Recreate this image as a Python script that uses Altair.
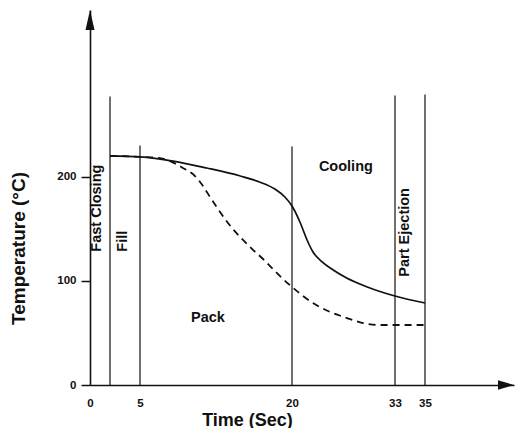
import altair as alt
import pandas as pd

# --- data ---
solid_t = [2, 5, 8.26, 11.6, 14.9, 16.8, 18.3, 19.3, 20, 21.0, 21.9, 22.65, 23.8, 25.2, 26.9, 29.5, 33, 35]
solid_temp = [220, 219, 215, 208.3, 200.6, 194.9, 188.2, 180.5, 171.8, 156.5, 139.2, 127.7, 118.1,
              110.4, 102.7, 94.1, 85.4, 78.7]

dash_t = [2, 5, 6.97, 7.96, 9.24, 10.43, 11.22, 11.91, 12.7, 13.39, 14.08, 15.07, 16.05, 17.04,
          18.03, 19.01, 20, 22.65, 24.8, 26.94, 28.96, 30.73, 33, 35]
dash_temp = [220, 219, 217.9, 215, 208.3, 200.6, 191, 180.5, 169, 159.4, 150.7, 140.2, 130.6,
             121.9, 112.3, 102.7, 94.1, 78.7, 70.1, 64.3, 59.5, 57.6, 57.6, 57.6]

phase_t = [2, 5, 20, 33, 35]
phase_top = [277, 230, 229, 278, 279]

vlabels = ["Fast Closing", "Fill", "Part Ejection"]
vlabel_t = [0.7, 3.3, 33.67]
vlabel_temp = [128, 128, 104]

hlabels = ["Pack", "Cooling"]
hlabel_t = [11.7, 26.8]
hlabel_temp = [64, 209]

x_ticks = [0, 5, 20, 33, 35]
y_ticks = [0, 100, 200]

FONT = "Liberation Sans"
INK = "#111111"

solid_df = pd.DataFrame({"t": solid_t, "temp": solid_temp})
dash_df = pd.DataFrame({"t": dash_t, "temp": dash_temp})
phase_df = pd.DataFrame({"t": phase_t, "temp": phase_top, "base": [0] * len(phase_t)})
vlab_df = pd.DataFrame({"t": vlabel_t, "temp": vlabel_temp, "label": vlabels})
hlab_df = pd.DataFrame({"t": hlabel_t, "temp": hlabel_temp, "label": hlabels})
xarrow_df = pd.DataFrame({"t": [40], "temp": [0]})
yarrow_df = pd.DataFrame({"t": [0], "temp": [360]})

x_scale = alt.Scale(domain=[0, 5, 20, 33, 35, 40], range=[0, 50, 202, 305, 335, 424])
y_scale = alt.Scale(domain=[0, 360], nice=False, zero=True)

x_enc = alt.X("t:Q", scale=x_scale,
              axis=alt.Axis(values=x_ticks, ticks=False, grid=False, labelPadding=12,
                            title="Time (Sec)", titleX=157, titleY=35,
                            titleAlign="center", titleBaseline="middle",
                            titleFontSize=18, labelFlush=False))
y_enc = alt.Y("temp:Q", scale=y_scale,
              axis=alt.Axis(values=y_ticks, grid=False, tickSize=9, labelPadding=5,
                            title="Temperature  (°C)", titleX=-72, titleY=238,
                            titleAngle=270, titleAlign="center", titleBaseline="middle",
                            titleFontSize=19, labelFlush=False))

rules = alt.Chart(phase_df).mark_rule(color=INK, strokeWidth=1.2).encode(
    x=x_enc, y=y_enc, y2="base:Q")

solid = alt.Chart(solid_df).mark_line(color=INK, strokeWidth=1.7, interpolate="monotone").encode(
    x=x_enc, y=y_enc)

dashed = alt.Chart(dash_df).mark_line(color=INK, strokeWidth=1.8, strokeDash=[7, 5],
                                      interpolate="monotone").encode(x=x_enc, y=y_enc)

vtext = alt.Chart(vlab_df).mark_text(angle=270, align="left", baseline="middle",
                                     font=FONT, fontWeight="bold", fontSize=14.5,
                                     color=INK).encode(x=x_enc, y=y_enc, text="label:N")

htext = alt.Chart(hlab_df).mark_text(align="center", baseline="middle",
                                     font=FONT, fontWeight="bold", fontSize=14.5,
                                     color=INK).encode(x=x_enc, y=y_enc, text="label:N")

xarrow = alt.Chart(xarrow_df).mark_point(shape="M0,0L-2,-0.6L-2,0.6Z", filled=True,
                                         size=256, color=INK, opacity=1).encode(x=x_enc, y=y_enc)
yarrow = alt.Chart(yarrow_df).mark_point(shape="M0,0L-0.45,2L0.45,2Z", filled=True,
                                         size=400, color=INK, opacity=1).encode(x=x_enc, y=y_enc)

chart = alt.layer(rules, dashed, solid, vtext, htext, xarrow, yarrow).properties(
    width=424, height=375,
    autosize=alt.AutoSizeParams(type="none"),
    padding={"left": 82, "top": 2, "right": 1, "bottom": 43},
    background="white",
).configure_view(stroke=None).configure_axis(
    domainColor=INK, domainWidth=1.6, tickColor=INK, tickWidth=1.5,
    labelFont=FONT, labelFontWeight="bold", labelFontSize=11.5, labelColor=INK,
    titleFont=FONT, titleFontWeight="bold", titleColor=INK,
)

chart.save("out.html", embed_options={"renderer": "svg", "actions": False})
